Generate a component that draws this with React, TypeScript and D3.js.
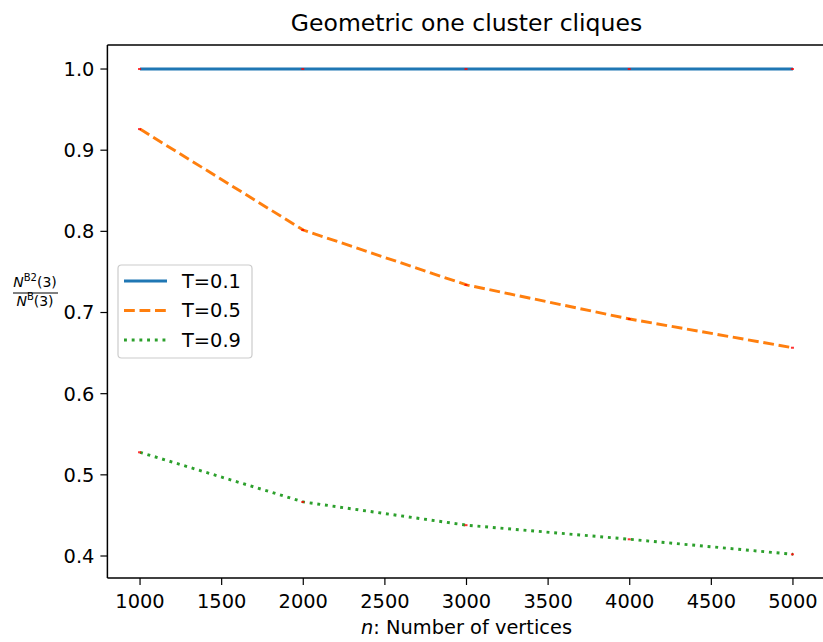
import React from "react";
import * as d3 from "d3";

const xs = [1000, 2000, 3000, 4000, 5000];
const t01 = [1.0, 1.0, 1.0, 1.0, 1.0];
const t05 = [0.926, 0.8016, 0.734, 0.692, 0.6566];
const t09 = [0.5278, 0.4666, 0.438, 0.4206, 0.4021];
const seriesNames = ["T=0.1", "T=0.5", "T=0.9"];
const xTicks = [1000, 1500, 2000, 2500, 3000, 3500, 4000, 4500, 5000];
const yTicks = [0.4, 0.5, 0.6, 0.7, 0.8, 0.9, 1.0];

const W = 823;
const H = 642;
const FONT = "DejaVu Sans, sans-serif";
const FS = 19.4;

export default function App() {
  const x = d3.scaleLinear().domain([800, 5200]).range([107.4, 825.6]);
  const y = d3.scaleLinear().domain([0.3729, 1.0296]).range([578, 45]);
  const left = 107.4, right = 825.6, top = 45, bottom = 578;

  const line = d3
    .line<[number, number]>()
    .x((d) => x(d[0]))
    .y((d) => y(d[1]));

  const allSeries = [t01, t05, t09];
  const colors = ["#1f77b4", "#ff7f0e", "#2ca02c"];
  const dashes = [undefined, "10.8,4.7", "2.9,4.8"];
  const lw = 2.9;

  return (
    <svg
      width={W}
      height={H}
      style={{ position: "absolute", left: 0, top: 0, display: "block", background: "#fff" }}
      fontFamily={FONT}
    >
      <rect x={0} y={0} width={W} height={H} fill="#fff" />
      {allSeries.map((s, i) => (
        <path
          key={i}
          d={line(xs.map((v, j) => [v, s[j]] as [number, number])) || ""}
          fill="none"
          stroke={colors[i]}
          strokeWidth={lw}
          strokeDasharray={dashes[i]}
          strokeLinecap="butt"
        />
      ))}
      {allSeries.map((s, i) =>
        xs.map((v, j) => (
          <rect
            key={`e${i}-${j}`}
            x={x(v) - 2}
            y={y(s[j]) - 1}
            width={3}
            height={2}
            fill="#ff0000"
            opacity={0.8}
          />
        ))
      )}
      <line x1={left} x2={left} y1={top} y2={bottom} stroke="#000" strokeWidth={1.5} />
      <line x1={left} x2={right} y1={bottom} y2={bottom} stroke="#000" strokeWidth={1.5} />
      <line x1={left} x2={right} y1={top} y2={top} stroke="#000" strokeWidth={1.5} />
      <line x1={right} x2={right} y1={top} y2={bottom} stroke="#000" strokeWidth={1.5} />
      {xTicks.map((t) => (
        <g key={`xt${t}`}>
          <line x1={x(t)} x2={x(t)} y1={bottom} y2={bottom + 7} stroke="#000" strokeWidth={1.2} />
          <text x={x(t)} y={bottom + 30} textAnchor="middle" fontSize={FS} fill="#000">
            {t}
          </text>
        </g>
      ))}
      {yTicks.map((t) => (
        <g key={`yt${t}`}>
          <line x1={left - 7} x2={left} y1={y(t)} y2={y(t)} stroke="#000" strokeWidth={1.2} />
          <text x={left - 13} y={y(t)} dy="0.36em" textAnchor="end" fontSize={FS} fill="#000">
            {t.toFixed(1)}
          </text>
        </g>
      ))}
      <text x={(left + right) / 2} y={31} textAnchor="middle" fontSize={23.5} fill="#000">
        Geometric one cluster cliques
      </text>
      <text x={(left + right) / 2} y={634} textAnchor="middle" fontSize={FS} fill="#000">
        <tspan fontStyle="italic">n</tspan>
        <tspan>: Number of vertices</tspan>
      </text>
      <g fill="#000">
        <text x={35} y={287} textAnchor="middle" fontSize={14}>
          <tspan fontStyle="italic">N</tspan>
          <tspan fontSize={10} dy={-6}>B2</tspan>
          <tspan dy={6}>(3)</tspan>
        </text>
        <line x1={13} x2={58} y1={293} y2={293} stroke="#000" strokeWidth={1} />
        <text x={35} y={306} textAnchor="middle" fontSize={14}>
          <tspan fontStyle="italic">N</tspan>
          <tspan fontSize={10} dy={-6}>B</tspan>
          <tspan dy={6}>(3)</tspan>
        </text>
      </g>
      <g>
        <rect
          x={118}
          y={265}
          width={134}
          height={93}
          rx={3.5}
          fill="#fff"
          fillOpacity={0.8}
          stroke="#cccccc"
          strokeWidth={1.2}
        />
        {seriesNames.map((n, i) => {
          const cy = 281 + i * 29.5;
          return (
            <g key={n}>
              <line
                x1={124}
                x2={167}
                y1={cy}
                y2={cy}
                stroke={colors[i]}
                strokeWidth={lw}
                strokeDasharray={dashes[i]}
              />
              <text x={182} y={cy} dy="0.36em" fontSize={FS} fill="#000">
                {n}
              </text>
            </g>
          );
        })}
      </g>
    </svg>
  );
}
